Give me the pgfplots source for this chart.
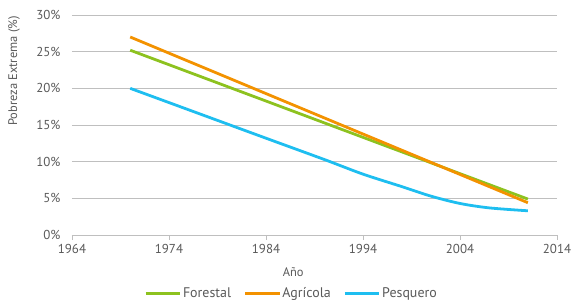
\documentclass[border=0pt]{standalone}
\usepackage{pgfplots}
\pgfplotsset{compat=1.18}
\usepackage{fontspec}
\setmainfont{PT Sans}
\definecolor{txt}{HTML}{595959}
\definecolor{grid}{HTML}{BFBFBF}
\definecolor{cForestal}{HTML}{8DC21F}
\definecolor{cAgricola}{HTML}{F39200}
\definecolor{cPesquero}{HTML}{1EBEF0}
\begin{document}
\begin{tikzpicture}
\begin{axis}[
  at={(0,0)}, anchor=south west,
  scale only axis, width=485bp, height=220bp,
  xmin=1964, xmax=2014, ymin=0, ymax=30,
  xtick={1964,1974,1984,1994,2004,2014},
  xticklabels={1964,\raisebox{-2.5bp}{1974},1984,\raisebox{-2.5bp}{1994},2004,2014},
  ytick={0,5,10,15,20,25,30},
  yticklabel={\pgfmathprintnumber{\tick}\%},
  /pgf/number format/assume math mode=true,
  axis x line*=bottom, axis y line*=left,
  x axis line style={grid, line width=1pt, -},
  y axis line style={draw=none},
  xmajorgrids=false, ymajorgrids=true,
  y grid style={grid, line width=1pt},
  xtick style={grid, line width=1pt},
  ytick style={draw=none},
  tick align=outside, major tick length=5bp,
  ticklabel style={font=\fontsize{13}{15}\selectfont, text=txt},
  yticklabel style={xshift=-3bp},
  xticklabel style={yshift=-1bp},
  xlabel={Año}, ylabel={Pobreza Extrema (\%)},
  label style={font=\fontsize{12.5}{15}\selectfont, text=txt},
  xlabel style={at={(rel axis cs:0.456,0)}, anchor=north, yshift=-29bp},
  ylabel style={at={(rel axis cs:-0.1196,0.745)}, anchor=center},
  legend style={at={(rel axis cs:0.452,0)}, anchor=north, yshift=-51bp,
    draw=none, font=\fontsize{14}{16}\selectfont, text=txt, legend columns=3,
    inner sep=0pt, nodes={inner sep=1.5bp},
    /tikz/every even column/.append style={column sep=11bp}},
  legend image code/.code={\draw[#1, line width=2.8pt] (0cm,0cm) -- (1.22cm,0cm);},
]
\addplot[cForestal, line width=2.8pt] coordinates {(1970,25.2) (2011,4.9)};
\addlegendentry{Forestal}
\addplot[cAgricola, line width=2.8pt] coordinates {(1970,27.0) (2011,4.4)};
\addlegendentry{Agrícola}
\addplot[cPesquero, line width=2.8pt, smooth] coordinates {(1970,20.0) (1977,16.6) (1984,13.2) (1990,10.3) (1994,8.3) (1998,6.6) (2001,5.3) (2004,4.3) (2007,3.7) (2011,3.3)};
\addlegendentry{Pesquero}
\end{axis}
\pgfresetboundingbox
\path[use as bounding box] (-72bp,-69bp) rectangle (500bp,235bp);
\end{tikzpicture}
\end{document}
